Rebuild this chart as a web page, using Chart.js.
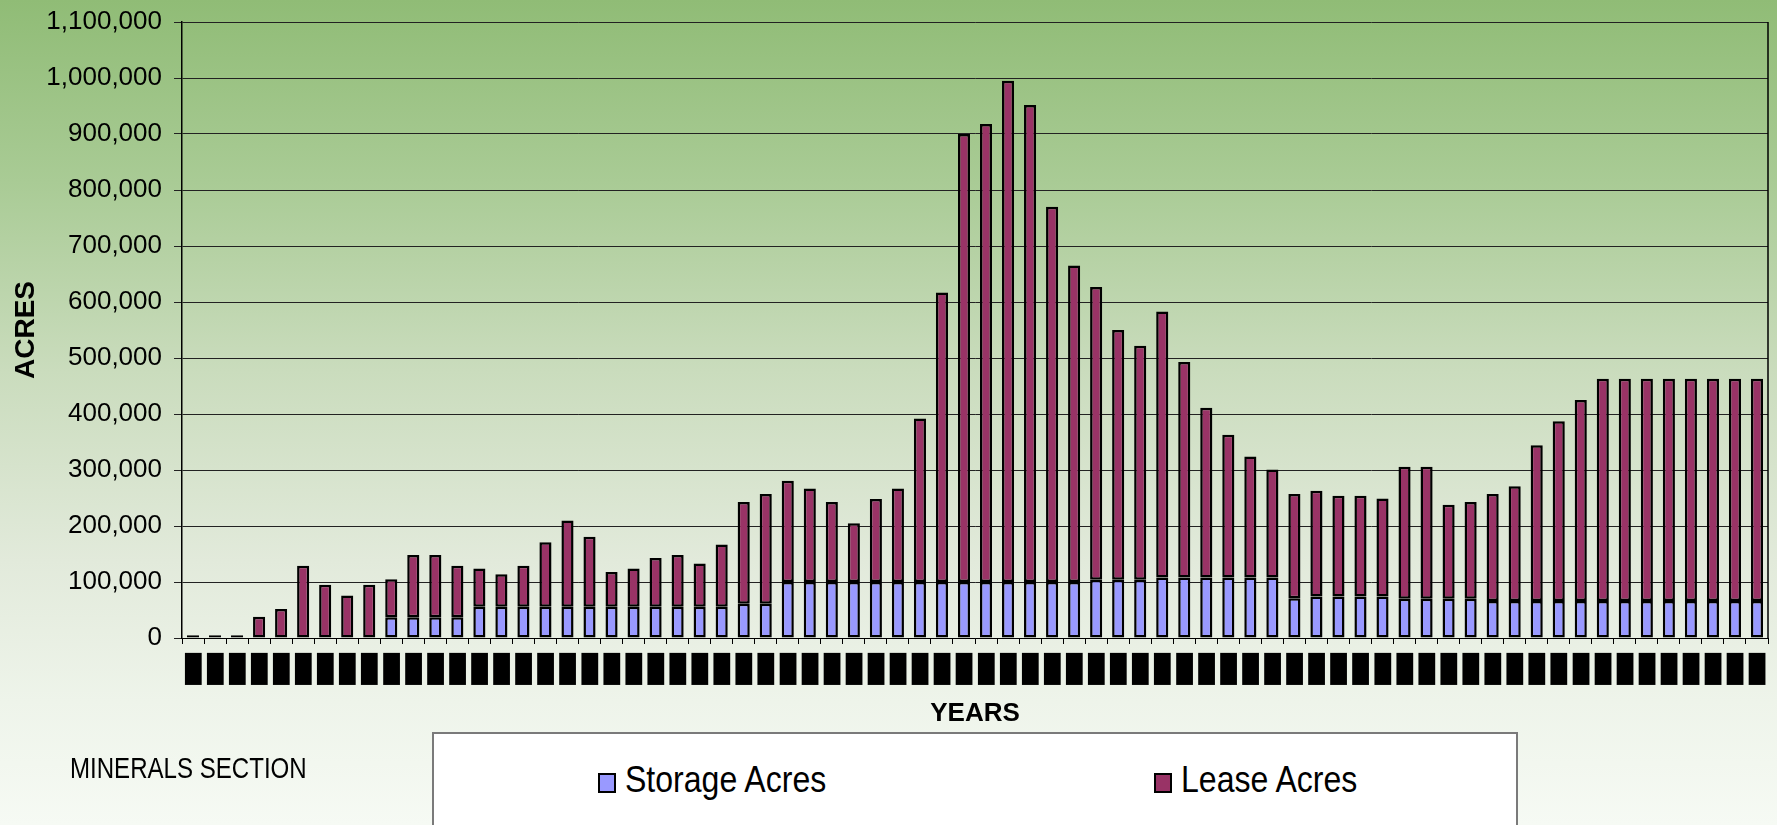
<!DOCTYPE html>
<html>
<head>
<meta charset="utf-8">
<script src="https://cdn.jsdelivr.net/npm/chart.js@4"></script>
<style>
  html, body { margin: 0; padding: 0; }
  body {
    width: 1777px; height: 825px; overflow: hidden; position: relative;
    background: linear-gradient(to bottom, #90bc76 0%, #a9cb95 22%, #cadcbd 45%, #e2eadb 68%, #eef4ea 85%, #f6faf4 100%);
    font-family: "Liberation Sans Narrow", "Liberation Sans", Arial, sans-serif;
  }
  #chart { position: absolute; left: 0; top: 0; }
  #section {
    position: absolute; left: 70px; top: 752px; font-size: 29px; color: #000;
    transform: scaleX(0.83); transform-origin: left center; white-space: nowrap;
  }
  #legendBox {
    position: absolute; left: 432px; top: 732px; width: 1086px; height: 100px;
    background: #fff; border: 2px solid #7a7a7a; box-sizing: border-box;
  }
  .item { position: absolute; top: 26px; font-size: 36px; line-height: 40px; color: #000; white-space: nowrap; }
  .swatch { display: inline-block; width: 14px; height: 16px; border: 2px solid #000; margin-right: 9px; vertical-align: -1px; }
  .txt { display: inline-block; transform: scaleX(0.89); transform-origin: left center; }
</style>
</head>
<body>
<canvas id="chart" width="1777" height="825"></canvas>
<div id="section">MINERALS SECTION</div>
<div id="legendBox"></div>
<script>
// minerals acres by year

const years = [
  1936, 1937, 1938, 1939, 1940, 1941, 1942, 1943, 1944, 1945, 1946, 1947,
  1948, 1949, 1950, 1951, 1952, 1953, 1954, 1955, 1956, 1957, 1958, 1959,
  1960, 1961, 1962, 1963, 1964, 1965, 1966, 1967, 1968, 1969, 1970, 1971,
  1972, 1973, 1974, 1975, 1976, 1977, 1978, 1979, 1980, 1981, 1982, 1983,
  1984, 1985, 1986, 1987, 1988, 1989, 1990, 1991, 1992, 1993, 1994, 1995,
  1996, 1997, 1998, 1999, 2000, 2001, 2002, 2003, 2004, 2005, 2006, 2007
];

const storageAcres = [
  0, 0, 0, 0, 0, 0, 0, 0, 0, 37000, 37000, 37000,
  37000, 56000, 56000, 56000, 56000, 56000, 56000, 56000, 56000, 56000, 56000, 56000,
  56000, 61000, 61000, 100000, 100000, 100000, 100000, 100000, 100000, 100000, 100000, 100000,
  100000, 100000, 100000, 100000, 100000, 104000, 104000, 104000, 108000, 108000, 108000, 108000,
  108000, 108000, 71000, 74000, 74000, 74000, 74000, 70000, 70000, 70000, 70000, 66000,
  66000, 66000, 66000, 66000, 66000, 66000, 66000, 66000, 66000, 66000, 66000, 66000
];

const leaseAcres = [
  5000, 5000, 5000, 38000, 52000, 129000, 95000, 76000, 95000, 68000, 111000, 111000,
  92000, 68000, 58000, 73000, 115000, 154000, 125000, 62000, 68000, 87000, 92000, 77000,
  111000, 182000, 196000, 181000, 167000, 143000, 105000, 148000, 167000, 292000, 517000, 800000,
  818000, 895000, 852000, 670000, 565000, 523000, 446000, 418000, 475000, 385000, 303000, 255000,
  216000, 193000, 186000, 189000, 180000, 180000, 175000, 236000, 236000, 168000, 173000, 191000,
  205000, 278000, 321000, 359000, 397000, 397000, 397000, 397000, 397000, 397000, 397000, 397000
];

const yTicks = [0, 100000, 200000, 300000, 400000, 500000, 600000, 700000, 800000, 900000, 1000000, 1100000];

const ctx = document.getElementById('chart').getContext('2d');

// right edge of the plot frame
const frame = {
  id: 'frame',
  afterDraw(chart) {
    const a = chart.chartArea;
    const c = chart.ctx;
    c.save();
    c.strokeStyle = '#000';
    c.lineWidth = 1.5;
    c.beginPath();
    c.moveTo(a.right, a.top);
    c.lineTo(a.right, a.bottom);
    c.stroke();
    c.restore();
  }
};

const chart = new Chart(ctx, {
  type: 'bar',
  data: {
    labels: years,
    datasets: [
      {
        label: 'Storage Acres',
        data: storageAcres,
        backgroundColor: '#9999ff',
        borderColor: '#000',
        borderWidth: 2.5,
        borderSkipped: false
      },
      {
        label: 'Lease Acres',
        data: leaseAcres,
        backgroundColor: '#993366',
        borderColor: '#000',
        borderWidth: 2.5,
        borderSkipped: false
      }
    ]
  },
  options: {
    responsive: false,
    animation: false,
    devicePixelRatio: 1,
    layout: { padding: { top: 22, right: 9, bottom: 92, left: 0 } },
    datasets: { bar: { categoryPercentage: 1, barPercentage: 0.55 } },
    plugins: { legend: { display: false } },
    scales: {
      x: {
        stacked: true,
        grid: { display: true, drawOnChartArea: false, drawTicks: true, tickLength: 6, color: '#000' },
        border: { color: '#000', width: 1 },
        ticks: {
          autoSkip: false, maxRotation: 0, minRotation: 0, padding: 11, color: '#000',
          font: { family: 'DejaVu Sans Mono', size: 27 },
          callback: () => '\u2588'
        },
        title: {
          display: true, text: 'YEARS', color: '#000',
          font: { family: 'Liberation Sans', weight: 'bold', size: 26 },
          padding: { top: 0, bottom: 4 }
        },
        afterFit(scale) { scale.height = 95; }
      },
      y: {
        stacked: true,
        min: 0,
        max: 1100000,
        afterBuildTicks(scale) { scale.ticks = yTicks.map(v => ({ value: v })); },
        grid: { color: '#222', lineWidth: 1, tickLength: 8 },
        border: { color: '#000', width: 1.5 },
        ticks: {
          color: '#000', padding: 12,
          font: { family: 'Liberation Sans', size: 26 },
          callback: v => Number(v).toLocaleString('en-US')
        },
        title: {
          display: true, text: 'ACRES', color: '#000',
          font: { family: 'Liberation Sans', weight: 'bold', size: 28 },
          padding: { top: 9, bottom: 0 }
        },
        afterFit(scale) {
          scale.width = 182;
          scale.paddingTop = 0;
          scale.paddingBottom = 0;
        }
      }
    }
  },
  plugins: [frame]
});

// legend box built from the datasets
const legendBox = document.getElementById('legendBox');
const legendX = [164, 720];
chart.data.datasets.forEach((ds, i) => {
  const item = document.createElement('div');
  item.className = 'item';
  item.style.left = legendX[i] + 'px';
  const sw = document.createElement('span');
  sw.className = 'swatch';
  sw.style.background = ds.backgroundColor;
  const txt = document.createElement('span');
  txt.className = 'txt';
  txt.textContent = ds.label;
  item.appendChild(sw);
  item.appendChild(txt);
  legendBox.appendChild(item);
});
</script>
</body>
</html>
